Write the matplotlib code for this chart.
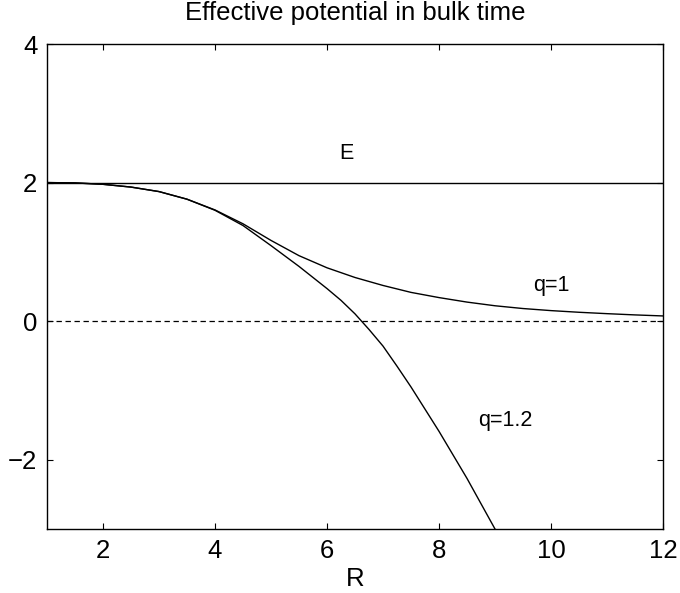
import matplotlib
matplotlib.use("Agg")
import matplotlib.pyplot as plt
import numpy as np

plt.rcParams['font.family'] = ['Liberation Sans', 'DejaVu Sans']

# values
R1 = [1, 1.5, 2, 2.5, 3, 3.5, 4, 4.5, 5, 5.5, 6, 6.5, 7, 7.5, 8, 8.5, 9, 9.5, 10, 10.5, 11, 11.5, 12]
V_q1 = [2.0, 1.995, 1.975, 1.935, 1.87, 1.76, 1.605, 1.405, 1.165, 0.945, 0.77, 0.63, 0.515, 0.415, 0.34, 0.275, 0.222, 0.182, 0.152, 0.128, 0.108, 0.09, 0.075]

R12 = [1, 1.5, 2, 2.5, 3, 3.5, 4, 4.5, 5, 5.5, 6, 6.25, 6.5, 6.75, 7, 7.25, 7.5, 8, 8.5, 9]
V_q12 = [2.0, 1.995, 1.975, 1.935, 1.87, 1.76, 1.60, 1.38, 1.09, 0.79, 0.47, 0.30, 0.105, -0.12, -0.36, -0.65, -0.95, -1.59, -2.27, -3.0]

E = 2.0
xticks = [2, 4, 6, 8, 10, 12]
yticks = [-2, 0, 2, 4]
ylabels = ['\u22122', '0', '2', '4']

fig = plt.figure(figsize=(6.8, 5.93), dpi=100)
ax = fig.add_axes((47/680, 64/593, 616/680, 485/593))

ax.plot([1, 12], [E, E], color='black', lw=1.0)
ax.plot([1, 12], [0, 0], color='black', lw=0.9, dashes=(4.3, 2.9))
ax.plot(R1, V_q1, color='black', lw=1.0)
ax.plot(R12, V_q12, color='black', lw=1.0)

ax.text(6.34, 2.42, 'E', ha='center', va='center', fontsize=15.5)
ax.text(9.68, 0.52, 'q=1', ha='left', va='center', fontsize=15.5)
ax.text(8.70, -1.43, 'q=1.2', ha='left', va='center', fontsize=15.5)

ax.set_xlim(1, 12)
ax.set_ylim(-3, 4)
ax.set_xticks(xticks)
ax.set_yticks(yticks)
ax.set_yticklabels(ylabels)
ax.tick_params(direction='in', length=4, width=0.8, top=True, right=True, labelsize=18.5, pad=7)
for s in ax.spines.values():
    s.set_linewidth(1.0)

ax.set_xlabel('R', fontsize=18.5, labelpad=3)
ax.set_title('Effective potential in bulk time', fontsize=18.5, pad=17)

fig.savefig('out.png', dpi=100)
